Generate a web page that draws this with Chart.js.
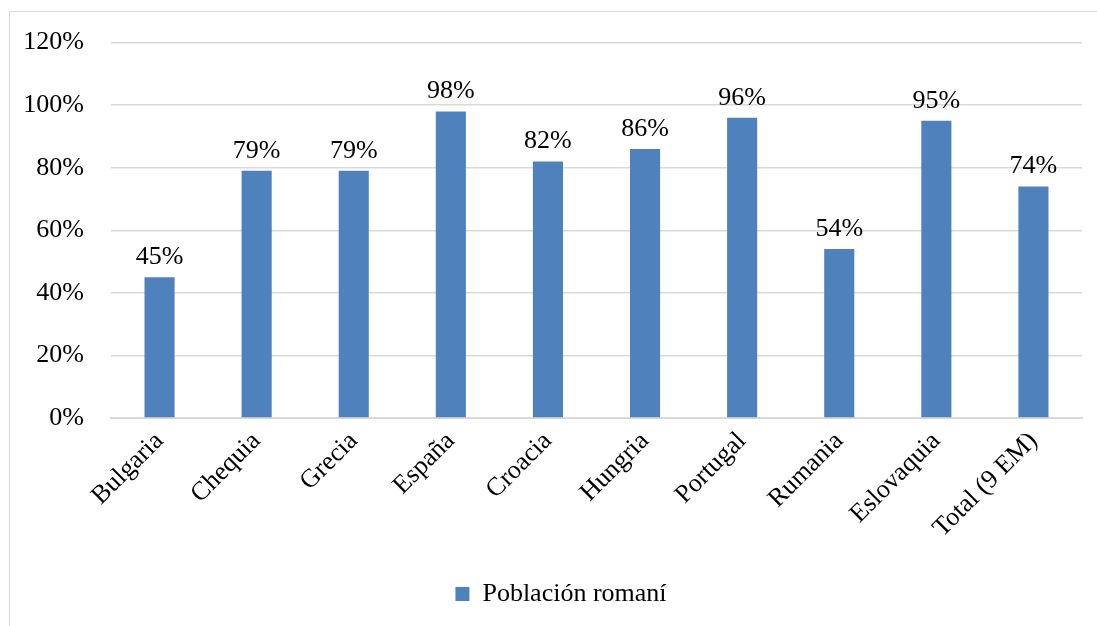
<!DOCTYPE html>
<html>
<head>
<meta charset="utf-8">
<script src="https://cdn.jsdelivr.net/npm/chart.js@4.4.0/dist/chart.umd.min.js"></script>
<style>
  html, body { margin: 0; padding: 0; background: #fff; }
  #wrap { position: relative; width: 1097px; height: 626px; overflow: hidden; }
  #frame { position: absolute; left: 9px; top: 11px; width: 1200px; height: 700px; border: 1px solid #d9d9d9; box-sizing: border-box; }
  canvas { position: absolute; left: 0; top: 0; }
</style>
</head>
<body>
<div id="wrap">
  <div id="frame"></div>
  <canvas id="c" width="1097" height="626"></canvas>
</div>
<script>
const categories = ["Bulgaria", "Chequia", "Grecia", "España", "Croacia", "Hungria", "Portugal", "Rumania", "Eslovaquia", "Total (9 EM)"];
const seriesName = "Población romaní";
const values = [45, 79, 79, 98, 82, 86, 96, 54, 95, 74];
const yTicks = [0, 20, 40, 60, 80, 100, 120];

const FONT = "'Liberation Serif', 'Times New Roman', serif";
const SIZE = 26;

const labelPlugin = {
  id: 'barLabels',
  afterLayout(chart) {
    // shift the legend to sit where the reference places it
    if (chart.legend) { chart.legend.left += 20; chart.legend.right += 20; }
  },
  afterDatasetsDraw(chart) {
    const ctx = chart.ctx;
    const meta = chart.getDatasetMeta(0);
    ctx.save();
    ctx.font = SIZE + 'px ' + FONT;
    ctx.fillStyle = '#000';
    ctx.textAlign = 'center';
    ctx.textBaseline = 'bottom';
    meta.data.forEach((bar, i) => {
      ctx.fillText(chart.data.datasets[0].data[i] + '%', bar.x, bar.y - 7);
    });
    ctx.restore();
  }
};

new Chart(document.getElementById('c'), {
  type: 'bar',
  data: {
    labels: categories,
    datasets: [{
      label: seriesName,
      data: values,
      backgroundColor: '#4f81bd',
      borderWidth: 0,
      barPercentage: 0.31,
      categoryPercentage: 1.0
    }]
  },
  options: {
    responsive: false,
    animation: false,
    devicePixelRatio: 1,
    layout: { padding: { left: 0, right: 15, top: 27, bottom: 9 } },
    plugins: {
      tooltip: { enabled: false },
      legend: {
        position: 'bottom',
        labels: {
          font: { family: FONT, size: SIZE },
          color: '#000',
          boxWidth: 14,
          boxHeight: 14,
          padding: 10
        }
      }
    },
    scales: {
      x: {
        grid: { display: false, drawTicks: false },
        border: { color: '#d9d9d9', width: 2 },
        ticks: {
          font: { family: FONT, size: SIZE },
          color: '#000',
          maxRotation: 45,
          minRotation: 45,
          padding: 8
        },
        afterFit(scale) { scale.height = 153; }
      },
      y: {
        min: 0,
        max: 120,
        afterBuildTicks(scale) { scale.ticks = yTicks.map(v => ({ value: v })); },
        grid: { color: '#d9d9d9', lineWidth: 1.5, drawTicks: false },
        border: { display: false },
        ticks: {
          font: { family: FONT, size: SIZE },
          color: '#000',
          padding: 27,
          callback: v => v + '%'
        },
        afterFit(scale) { scale.width = 111; }
      }
    }
  },
  plugins: [labelPlugin]
});
</script>
</body>
</html>
